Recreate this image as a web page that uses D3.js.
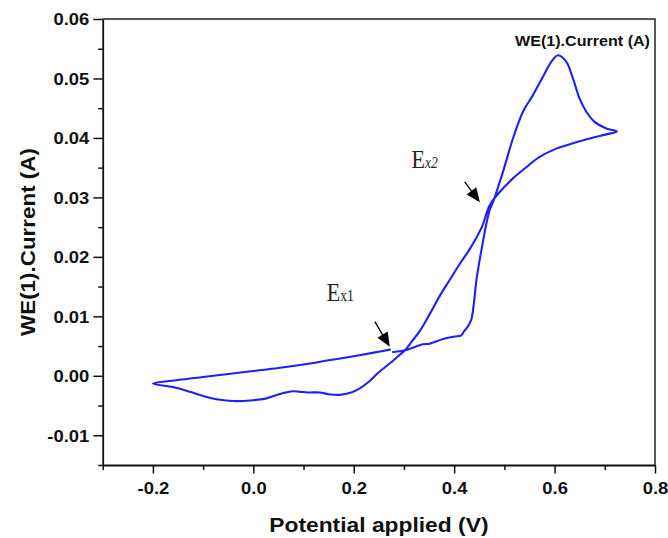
<!DOCTYPE html>
<html>
<head>
<meta charset="utf-8">
<script src="https://cdn.jsdelivr.net/npm/d3@7/dist/d3.min.js"></script>
<style>
  body { margin: 0; background: #fff; }
  svg { display: block; }
  .tick line { stroke: #111; stroke-width: 1.5; }
  .domain { stroke: #111; stroke-width: 1.8; }
</style>
</head>
<body>
<div id="chart"></div>
<script>
// Cyclic voltammogram, in scan order (starts just right of Ex1, runs to +0.73 V,
// back down to -0.2 V and forward again to the start)
var potential = [
  0.278, 0.302, 0.338, 0.351, 0.378, 0.401, 0.414, 0.420, 0.428, 0.434,
  0.4375, 0.441, 0.4443, 0.449, 0.4542, 0.4642, 0.4708, 0.4773, 0.4972, 0.5171,
  0.537, 0.5569, 0.5768, 0.5935, 0.6067, 0.6234, 0.6365, 0.6499, 0.6632, 0.6797,
  0.703, 0.7241,
  0.703, 0.6698, 0.6365, 0.6035, 0.5702, 0.5438, 0.5171, 0.4907, 0.4708, 0.455,
  0.431, 0.411, 0.391, 0.371, 0.352, 0.332, 0.315, 0.302, 0.287, 0.272,
  0.250, 0.230, 0.212, 0.195, 0.172, 0.150, 0.132, 0.110, 0.093, 0.079,
  0.060, 0.040, 0.026, 0.000, -0.040, -0.070, -0.100, -0.126, -0.160, -0.200,
  -0.150, -0.100, -0.050, 0.000, 0.050, 0.100, 0.150, 0.200, 0.240, 0.272
];
var current = [
  0.0040, 0.0043, 0.0053, 0.0054, 0.0062, 0.0066, 0.0068, 0.0075, 0.0084, 0.0094,
  0.0110, 0.0135, 0.0161, 0.0186, 0.0211, 0.0256, 0.0279, 0.0292, 0.0343, 0.0399,
  0.0444, 0.0472, 0.0503, 0.0528, 0.0539, 0.0528, 0.0500, 0.0466, 0.0444, 0.0427,
  0.0416, 0.0411,
  0.0406, 0.0399, 0.0391, 0.0382, 0.0368, 0.0351, 0.0332, 0.0309, 0.0287, 0.0250,
  0.0213, 0.0188, 0.0161, 0.0134, 0.0105, 0.0076, 0.0057, 0.0043, 0.0032, 0.0021,
  0.0006, -0.0010, -0.0021, -0.0028, -0.0032, -0.0031, -0.0028, -0.0028, -0.0027, -0.0026,
  -0.0029, -0.0034, -0.0038, -0.0041, -0.00425, -0.0040, -0.0034, -0.0027, -0.0019, -0.0013,
  -0.0007, -0.0002, 0.0003, 0.0008, 0.0013, 0.0019, 0.0026, 0.0033, 0.0039, 0.0044
];

// Tick values
var xMajor = [-0.2, 0.0, 0.2, 0.4, 0.6, 0.8];
var xMinor = [-0.3, -0.1, 0.1, 0.3, 0.5, 0.7];
var yMajor = [-0.01, 0.00, 0.01, 0.02, 0.03, 0.04, 0.05, 0.06];
var yMinor = [-0.015, -0.005, 0.005, 0.015, 0.025, 0.035, 0.045, 0.055];

// Annotations (data units): label anchor, arrow tail, arrow tip
var annLabels = ["x1", "x2"];
var annLabelPos = [[0.146, 0.01255], [0.315, 0.0349]];
var annArrowFrom = [[0.242, 0.0091], [0.421, 0.0326]];
var annArrowTo = [[0.2717, 0.0049], [0.4512, 0.0292]];

var W = 668, H = 538;
var margin = {top: 19, right: 13, bottom: 73, left: 102.7};
var width = W - margin.left - margin.right;
var height = H - margin.top - margin.bottom;
var sans = "'Liberation Sans', Arial, Helvetica, sans-serif";
var serif = "'Liberation Serif', 'Times New Roman', serif";

var svg = d3.select("#chart").append("svg")
  .attr("width", W).attr("height", H);
svg.append("rect").attr("width", W).attr("height", H).attr("fill", "#fff");

var g = svg.append("g")
  .attr("transform", "translate(" + margin.left + "," + margin.top + ")");

var x = d3.scaleLinear().domain([-0.3, 0.8]).range([0, width]);
var y = d3.scaleLinear().domain([-0.015, 0.06]).range([height, 0]);

// frame (top and right sides)
g.append("path")
  .attr("d", "M0,0H" + width + "V" + height)
  .attr("fill", "none").attr("stroke", "#222").attr("stroke-width", 1.5);

var kTick = 1.13;

// minor ticks
g.append("g").attr("transform", "translate(0," + height + ")")
  .call(d3.axisBottom(x).tickValues(xMinor).tickSize(5).tickSizeOuter(0).tickFormat(""))
  .call(function(s) { s.select(".domain").remove(); });
g.append("g")
  .call(d3.axisLeft(y).tickValues(yMinor).tickSize(4.5).tickSizeOuter(0).tickFormat(""))
  .call(function(s) { s.select(".domain").remove(); });

// major axes
var xAxis = g.append("g").attr("transform", "translate(0," + height + ")")
  .call(d3.axisBottom(x).tickValues(xMajor).tickSize(8.5).tickSizeOuter(0)
    .tickFormat(function(d) { return d.toFixed(1); }));
xAxis.selectAll("text")
  .attr("y", 0).attr("dy", 0)
  .attr("transform", "translate(0,29) scale(" + kTick + ",1)")
  .style("font", "bold 16.3px " + sans).attr("fill", "#111");

var yAxis = g.append("g")
  .call(d3.axisLeft(y).tickValues(yMajor).tickSize(9.3).tickSizeOuter(0)
    .tickFormat(function(d) { return d.toFixed(2); }));
yAxis.selectAll("text")
  .attr("x", 0).attr("dy", "0.36em")
  .attr("transform", "translate(-13.4,0) scale(" + kTick + ",1)")
  .style("font", "bold 16.3px " + sans).attr("fill", "#111");

// axis titles
svg.append("text")
  .attr("transform", "translate(" + (margin.left + width / 2) + ",532) scale(1.17,1)")
  .attr("text-anchor", "middle")
  .style("font", "bold 19.5px " + sans).attr("fill", "#111")
  .text("Potential applied (V)");

svg.append("text")
  .attr("transform", "translate(35," + (margin.top + height / 2) + ") rotate(-90) scale(1.12,1)")
  .attr("text-anchor", "middle")
  .style("font", "bold 20px " + sans).attr("fill", "#111")
  .text("WE(1).Current (A)");

// series name, top right
g.append("text")
  .attr("transform", "translate(" + x(0.79) + "," + y(0.0555) + ") scale(1.15,1)")
  .attr("text-anchor", "end")
  .style("font", "bold 14px " + sans).attr("fill", "#111")
  .text("WE(1).Current (A)");

// CV trace
var pts = d3.zip(potential, current);
var line = d3.line()
  .curve(d3.curveCatmullRom.alpha(0.5))
  .x(function(d) { return x(d[0]); })
  .y(function(d) { return y(d[1]); });

g.append("path")
  .datum(pts)
  .attr("fill", "none")
  .attr("stroke", "#2020f4")
  .attr("stroke-width", 2.1)
  .attr("stroke-linejoin", "round")
  .attr("stroke-linecap", "round")
  .attr("d", line);

// annotation labels and arrows
for (var i = 0; i < annLabels.length; i++) {
  var t = g.append("text")
    .attr("transform", "translate(" + x(annLabelPos[i][0]) + "," + y(annLabelPos[i][1]) + ") scale(0.85,1)")
    .style("font-family", serif).attr("fill", "#222");
  t.append("tspan").style("font-size", "26px").text("E");
  t.append("tspan").style("font-size", "16px")
    .style("font-style", i == 1 ? "italic" : "normal")
    .text(annLabels[i]);

  var x0 = x(annArrowFrom[i][0]), y0 = y(annArrowFrom[i][1]);
  var x1 = x(annArrowTo[i][0]), y1 = y(annArrowTo[i][1]);
  var dx = x1 - x0, dy = y1 - y0, len = Math.sqrt(dx * dx + dy * dy);
  var ux = dx / len, uy = dy / len;
  var headL = 14, headW = 6;
  var bx = x1 - ux * headL, by = y1 - uy * headL;
  g.append("line")
    .attr("x1", x0).attr("y1", y0).attr("x2", bx + ux * 2).attr("y2", by + uy * 2)
    .attr("stroke", "#000").attr("stroke-width", 1.3);
  g.append("path")
    .attr("d", "M" + x1 + "," + y1 +
      "L" + (bx - uy * headW) + "," + (by + ux * headW) +
      "L" + (bx + uy * headW) + "," + (by - ux * headW) + "Z")
    .attr("fill", "#000");
}
</script>
</body>
</html>
